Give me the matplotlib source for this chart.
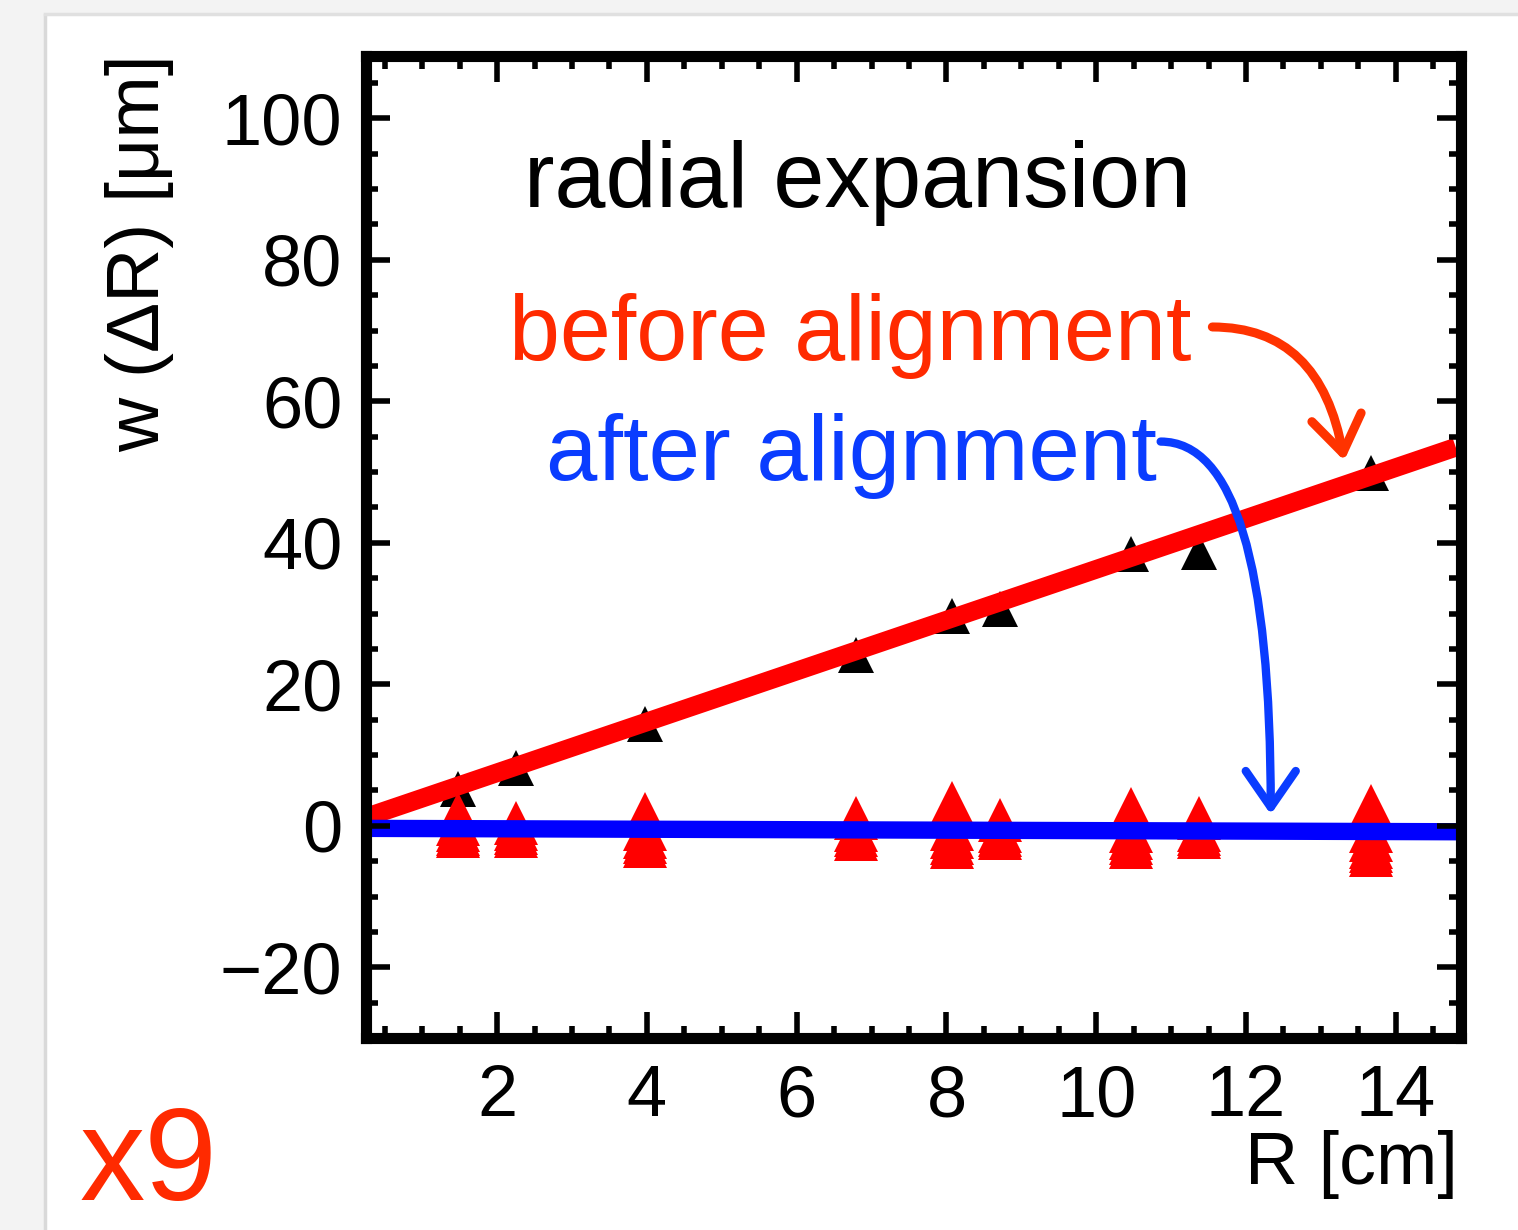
import matplotlib
matplotlib.use('Agg')
import matplotlib.pyplot as plt
from matplotlib.ticker import MultipleLocator
from matplotlib.patches import Rectangle
from matplotlib.lines import Line2D
import numpy as np

plt.rcParams['font.family'] = ['Liberation Sans', 'DejaVu Sans']

# module radii and measured w(dR) before alignment
r_pos = [1.48, 2.25, 3.97, 6.79, 8.08, 8.71, 10.47, 11.37, 13.67]
before = [5.2, 8.1, 14.4, 24.2, 29.7, 30.6, 38.4, 38.7, 49.9]

# after alignment: several entries per radius
after = [
    [1.6, 0.2, -0.6, -1.1, -1.5],
    [0.35, -0.4, -1.0, -1.5],
    [1.6, -0.5, -1.6, -2.3, -2.9],
    [1.1, -0.6, -1.3, -1.9],
    [3.2, 2.4, -0.5, -1.6, -2.4, -3.0],
    [0.8, -0.7, -1.3, -1.8],
    [2.3, -0.8, -1.8, -2.5, -3.0],
    [1.1, -0.6, -1.1, -1.6],
    [2.75, -0.8, -2.0, -3.0, -3.6, -4.2],
]

# straight-line fits
fit_before_x = [0.25, 14.8]
fit_before_y = [1.2, 53.5]
fit_after_x = [0.25, 14.87]
fit_after_y = [-0.37, -0.85]

W, H = 1518, 1230
fig = plt.figure(figsize=(W / 100, H / 100), dpi=100)
fig.patch.set_facecolor('#f3f3f3')
fig.patches.append(Rectangle((46 / W, 0), 1 - 46 / W, 1 - 15 / H, transform=fig.transFigure,
                             facecolor='white', edgecolor='none', zorder=-10))
fig.lines.append(Line2D([45 / W, 45 / W], [0, 1 - 15 / H], transform=fig.transFigure,
                        color='#d9d9d9', lw=2.5))
fig.lines.append(Line2D([45 / W, 1], [1 - 14 / H, 1 - 14 / H], transform=fig.transFigure,
                        color='#e0e0e0', lw=2.5))

ax = fig.add_axes([366 / W, 1 - 1038 / H, 1095 / W, 982 / H])
ax.set_xlim(0.25, 14.87)
ax.set_ylim(-30, 108.8)

ax.plot(r_pos, before, linestyle='none', marker='^', ms=26, color='black', mew=0, zorder=2)
ax.plot(fit_before_x, fit_before_y, color='#ff0000', lw=13.5, solid_capstyle='butt', zorder=3)

ax_x = np.repeat(r_pos, [len(a) for a in after])
ax_y = np.concatenate(after)
ax.plot(ax_x, ax_y, linestyle='none', marker='^', ms=31, color='#ff0000', mew=0, zorder=3.5)
ax.plot(fit_after_x, fit_after_y, color='#0000ff', lw=12.5, solid_capstyle='butt', zorder=4)

for s in ax.spines.values():
    s.set_linewidth(8)
    s.set_zorder(10)
ax.xaxis.set_zorder(10)
ax.yaxis.set_zorder(10)

ax.xaxis.set_major_locator(MultipleLocator(2))
ax.xaxis.set_minor_locator(MultipleLocator(0.5))
ax.yaxis.set_major_locator(MultipleLocator(20))
ax.yaxis.set_minor_locator(MultipleLocator(5))
ax.tick_params(which='both', direction='in', top=True, right=True, width=4, labelsize=52)
ax.tick_params(axis='x', which='major', length=19, pad=19)
ax.tick_params(axis='x', which='minor', length=9)
ax.tick_params(axis='y', which='major', length=17, pad=17)
ax.tick_params(axis='y', which='minor', length=8.5)

# arrows from the labels to the fitted lines
ax.annotate('', xy=(13.31, 51.6), xytext=(11.55, 70.5),
            arrowprops=dict(arrowstyle='->,head_length=1.3,head_width=0.9', mutation_scale=20,
                            connectionstyle='angle3,angleA=0,angleB=-80',
                            color='#ff3300', lw=6.5, shrinkA=0, shrinkB=0),
            annotation_clip=False, zorder=6)
ax.annotate('', xy=(12.33, 1.6), xytext=(10.86, 54.3),
            arrowprops=dict(arrowstyle='->,head_length=1.3,head_width=0.9', mutation_scale=20,
                            connectionstyle='angle3,angleA=0,angleB=90',
                            color='#0a3cff', lw=6, shrinkA=0, shrinkB=0),
            annotation_clip=False, zorder=6)

fig.text(524 / W, 1 - 207 / H, 'radial expansion', fontsize=66, color='black', va='baseline')
fig.text(509 / W, 1 - 360 / H, 'before alignment', fontsize=66, color='#ff2a00', va='baseline')
fig.text(546 / W, 1 - 480 / H, 'after alignment', fontsize=66.5, color='#0a3cff', va='baseline')

fig.text(140 / W, 1 - 54 / H, 'w (ΔR) [μm]', fontsize=54, rotation=90, ha='center', va='top')
fig.text(1458 / W, 1 - 1184 / H, 'R [cm]', fontsize=53, ha='right', va='baseline')
fig.text(80 / W, 1 - 1200 / H, 'x9', fontsize=94, color='#ff2a00', va='baseline')

fig.savefig('out.png', dpi=100, facecolor=fig.get_facecolor())
